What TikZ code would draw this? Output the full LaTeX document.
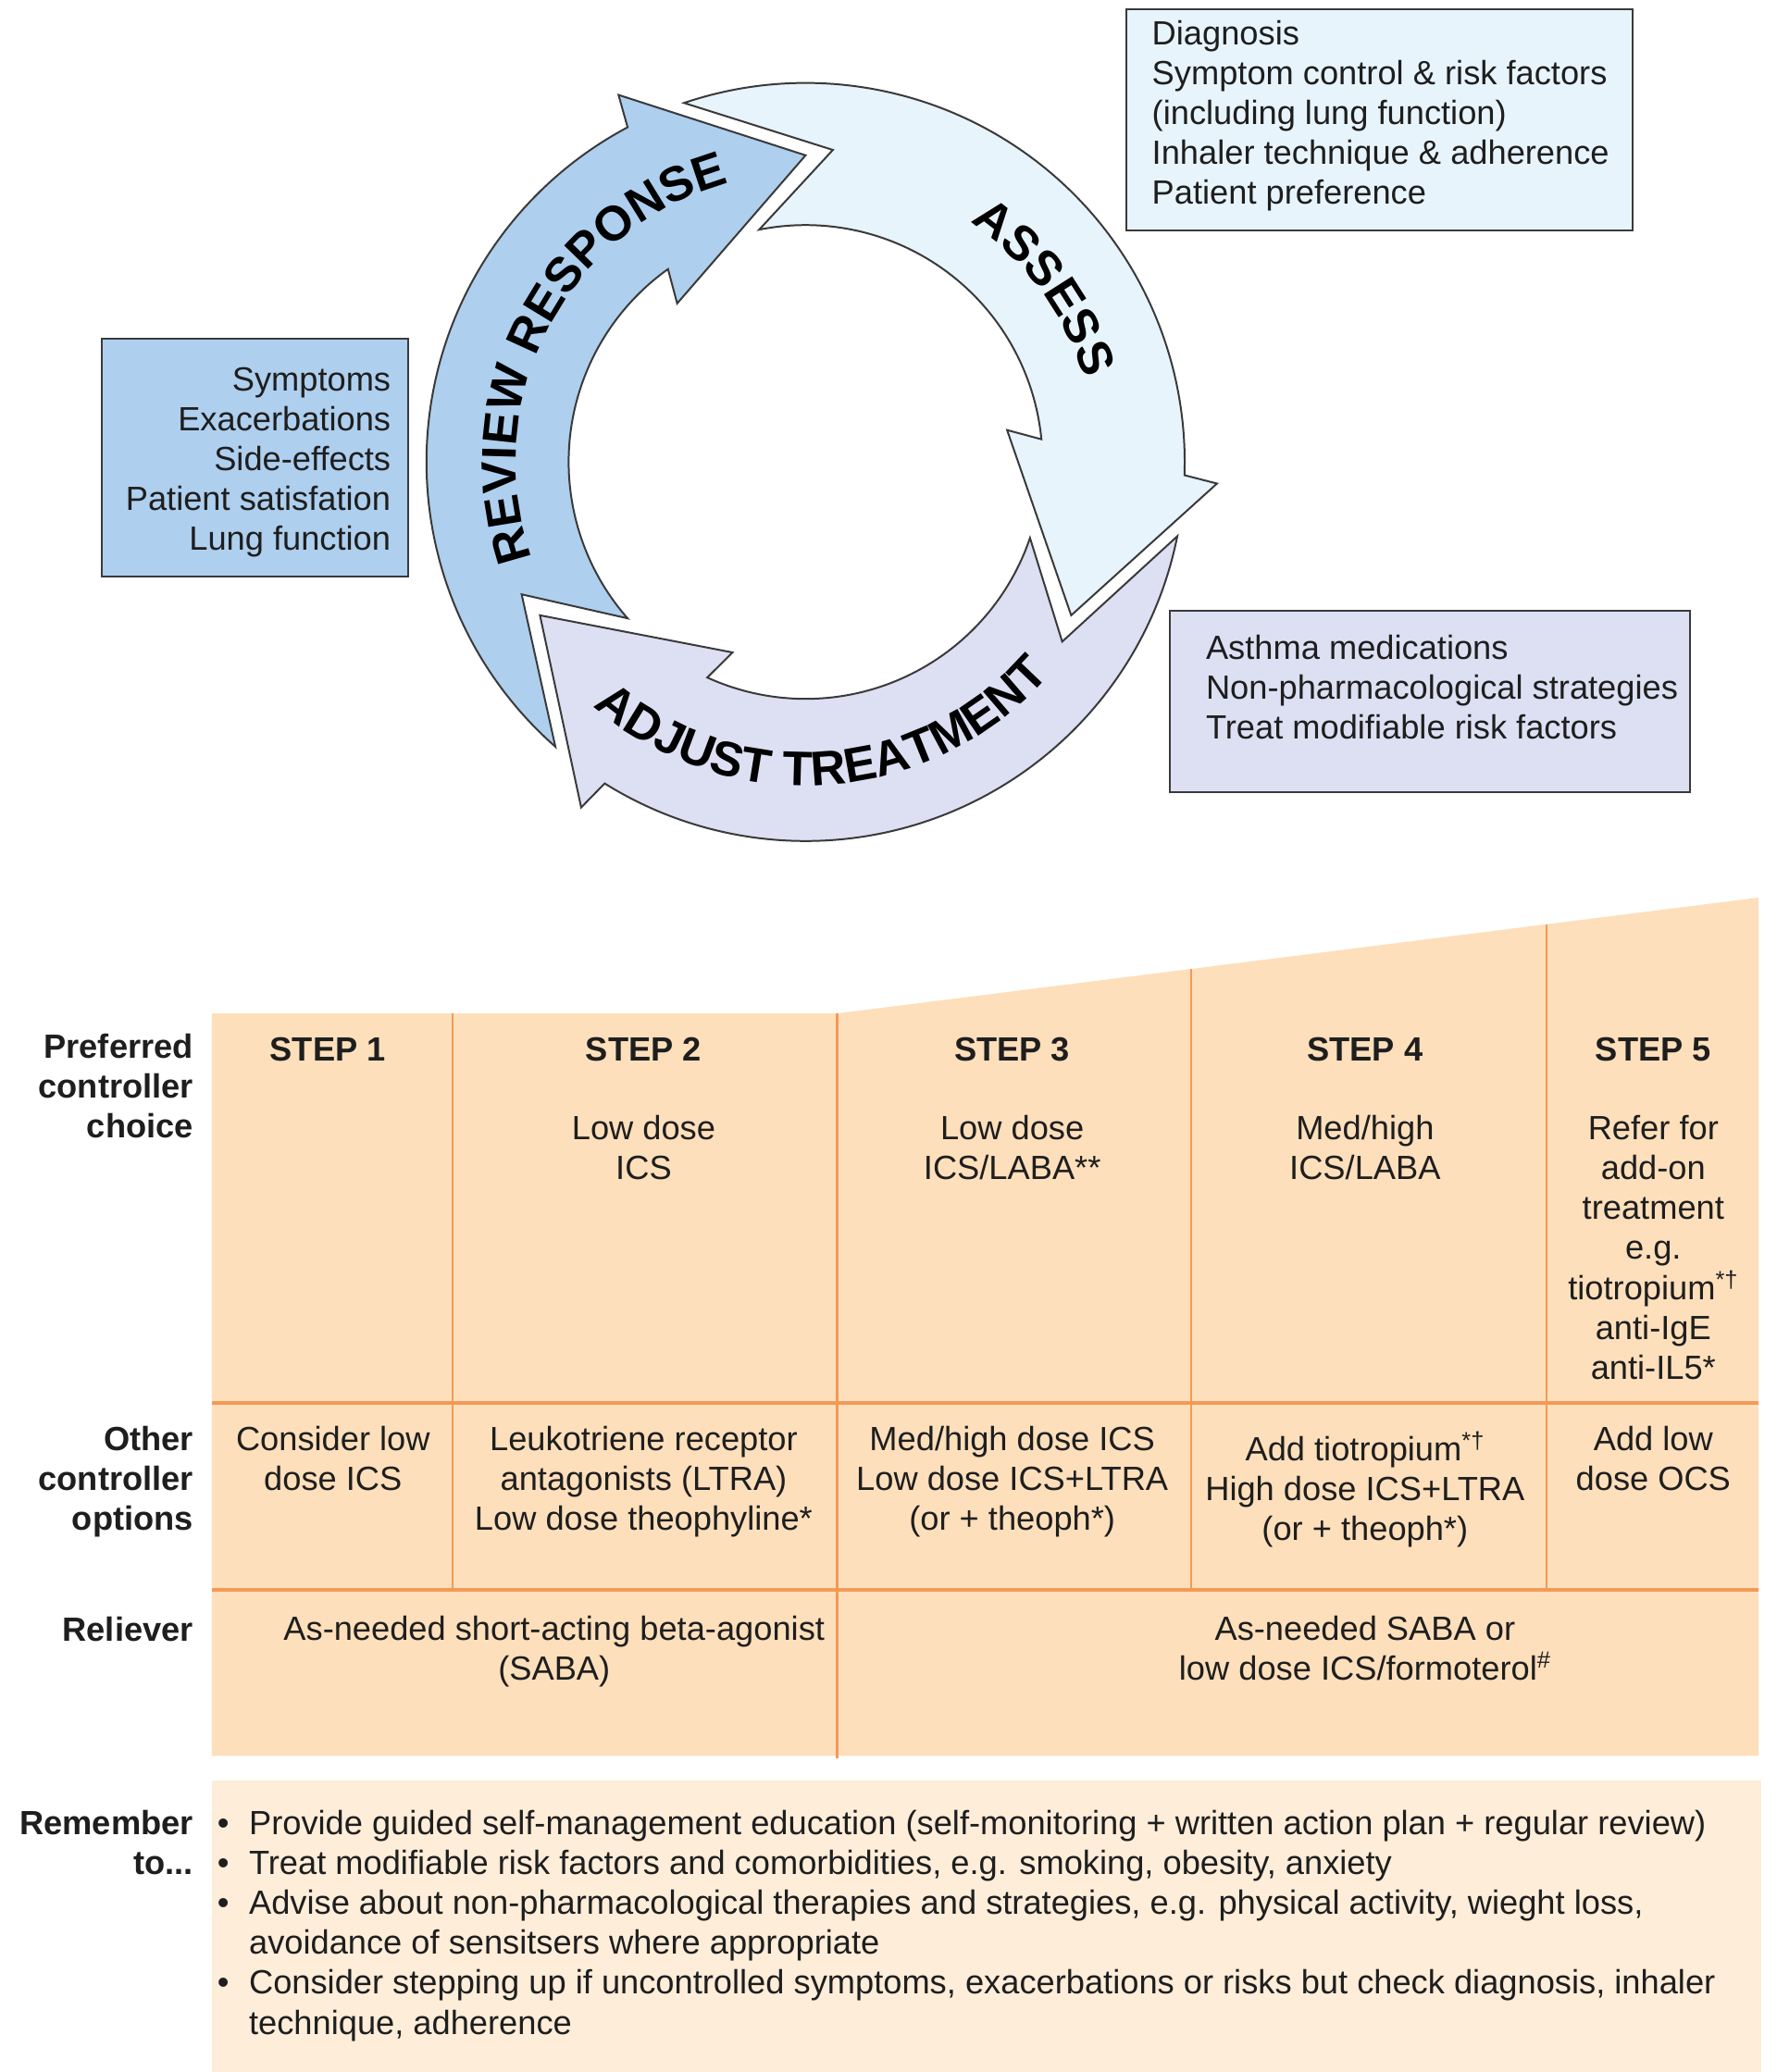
\documentclass[tikz,border=0pt]{standalone}
\usepackage{fontspec}
\setmainfont{Liberation Sans}
\usetikzlibrary{decorations.text}
\newcommand\bodyfont{\fontsize{25.5}{30.3}\selectfont}
\newcommand\arcfont{\fontsize{37}{44}\selectfont\bfseries}
\definecolor{revfill}{HTML}{AECFEE}
\definecolor{assfill}{HTML}{E8F4FC}
\definecolor{adjfill}{HTML}{DDE0F3}
\definecolor{tabfill}{HTML}{FDDFBB}
\definecolor{remfill}{HTML}{FEEDD9}
\definecolor{tabline}{HTML}{F39A55}
\definecolor{outline}{HTML}{3A3A3A}
\definecolor{ink}{HTML}{1E1E1E}
\newcommand\cyclearrow[2]{%
  \filldraw[arrowline, fill=#2] ({#1}:233) -- ({#1+27}:313) -- ({#1+28}:288)
    arc[start angle={#1+28}, end angle={#1+138.7}, radius=288]
    -- ({#1+115}:238) -- ({#1+131.3}:180)
    arc[start angle={#1+131.3}, end angle={#1+35.5}, radius=180]
    -- ({#1+39}:155) -- cycle;}
\begin{document}
\begin{tikzpicture}[x=1pt,y=1pt,
  arrowline/.style={draw=outline, line width=1.4pt, line join=miter},
  infobox/.style={draw=outline, line width=1.4pt},
  txt/.style={inner sep=0pt, font=\bodyfont, text=ink, anchor=base, align=center},
  lbl/.style={inner sep=0pt, font=\bodyfont\bfseries, text=ink, anchor=base east, align=right},
  head/.style={inner sep=0pt, font=\bodyfont\bfseries, text=ink, anchor=base},
  vline/.style={draw=tabline, line width=1.5pt},
  hline/.style={draw=tabline, line width=3pt},
  arctext/.style={decorate, decoration={text along path, text align=center, text={|\arcfont|#1}}}
]
\useasboundingbox (0,0) rectangle (1350,-1574.3);
\fill[white] (0,0) rectangle (1350,-1574.3);

% ---------- cycle ----------
\begin{scope}[shift={(612,-351)}]
  \cyclearrow{90}{revfill}
  \cyclearrow{-30}{assfill}
  \cyclearrow{210}{adjfill}
  \path[arctext={REVIEW RESPONSE}] (222.4:220) arc[start angle=222.4, end angle=82.4, radius=220];
  \path[arctext={ASSESS}] (106:221) arc[start angle=106, end angle=-34, radius=221];
  \path[arctext={ADJUST TREATMENT}] (204:246) arc[start angle=204, end angle=344, radius=246];
\end{scope}

% ---------- info boxes ----------
\filldraw[infobox, fill=assfill] (856,-7) rectangle (1240,-175);
\node[txt, anchor=base west, align=left] (assessinfo) at (875,-155.2)
  {Diagnosis\\Symptom control \& risk factors\\(including lung function)\\Inhaler technique \& adherence\\Patient preference};
\filldraw[infobox, fill=revfill] (77,-257) rectangle (310,-438);
\node[txt, anchor=base east, align=right] (reviewinfo) at (297,-418.2)
  {Symptoms\\Exacerbations\\Side-effects\\Patient satisfation\\Lung function};
\filldraw[infobox, fill=adjfill] (889,-464) rectangle (1284,-602);
\node[txt, anchor=base west, align=left] (adjustinfo) at (916,-561.6)
  {Asthma medications\\Non-pharmacological strategies\\Treat modifiable risk factors};

% ---------- table ----------
\fill[tabfill] (161,-770) -- (636,-770) -- (1336,-682) -- (1336,-1334) -- (161,-1334) -- cycle;
\draw[vline] (344,-770) -- (344,-1208);
\draw[vline] (636,-770) -- (636,-1336);
\draw[vline] (905,-736.2) -- (905,-1208);
\draw[vline] (1175,-702.2) -- (1175,-1208);
\draw[hline] (161,-1066) -- (1336,-1066);
\draw[hline] (161,-1208) -- (1336,-1208);

\node[lbl] (lpref) at (147,-864.6) {Preferred\\controller\\choice};
\node[lbl] (lother) at (147,-1162.6) {Other\\controller\\options};
\node[lbl] (lrel) at (147,-1247) {Reliever};
\node[lbl] (lrem) at (147,-1424.3) {Remember\\to...};

\node[head] (s1) at (249,-806) {STEP 1};
\node[head] (s2) at (489,-806) {STEP 2};
\node[head] (s3) at (769,-806) {STEP 3};
\node[head] (s4) at (1037,-806) {STEP 4};
\node[head] (s5) at (1256,-806) {STEP 5};

\node[txt] (p2) at (489,-896.3) {Low dose\\ICS};
\node[txt] (p3) at (769,-896.3) {Low dose\\ICS/LABA**};
\node[txt] (p4) at (1037,-896.3) {Med/high\\ICS/LABA};
\node[txt] (p5) at (1256,-1047.8) {Refer for\\add-on\\treatment\\e.g.\\tiotropium\textsuperscript{*†}\\anti-IgE\\anti-IL5*};

\node[txt] (o1) at (253,-1132.3) {Consider low\\dose ICS};
\node[txt] (o2) at (489,-1162.6) {Leukotriene receptor\\antagonists (LTRA)\\Low dose theophyline*};
\node[txt] (o3) at (769,-1162.6) {Med/high dose ICS\\Low dose ICS+LTRA\\(or + theoph*)};
\node[txt] (o4) at (1037,-1170.6) {Add tiotropium\textsuperscript{*†}\\High dose ICS+LTRA\\(or + theoph*)};
\node[txt] (o5) at (1256,-1132.3) {Add low\\dose OCS};

\node[txt] (r1) at (421,-1276.3) {As-needed short-acting beta-agonist\\(SABA)};
\node[txt] (r2) at (1037,-1276.3) {As-needed SABA or\\low dose ICS/formoterol\textsuperscript{\#}};

% ---------- remember ----------
\fill[remfill] (161,-1353) rectangle (1338,-1574.3);
\node[txt, anchor=base west, align=left] (remlist) at (165,-1545.5)
  {\makebox[24pt][l]{\textbullet}Provide guided self-management education (self-monitoring + written action plan + regular review)\\
   \makebox[24pt][l]{\textbullet}Treat modifiable risk factors and comorbidities, e.g. smoking, obesity, anxiety\\
   \makebox[24pt][l]{\textbullet}Advise about non-pharmacological therapies and strategies, e.g. physical activity, wieght loss,\\
   \hspace*{24pt}avoidance of sensitsers where appropriate\\
   \makebox[24pt][l]{\textbullet}Consider stepping up if uncontrolled symptoms, exacerbations or risks but check diagnosis, inhaler\\
   \hspace*{24pt}technique, adherence};
\end{tikzpicture}
\end{document}
